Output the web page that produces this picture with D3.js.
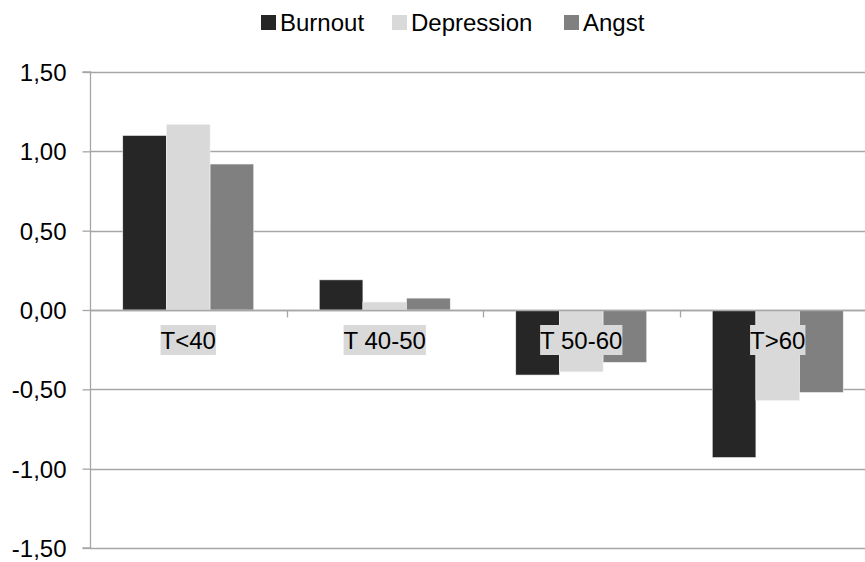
<!DOCTYPE html>
<html><head><meta charset="utf-8">
<script src="https://cdn.jsdelivr.net/npm/d3@7/dist/d3.min.js"></script>
<style>body{margin:0;background:#fff}svg{display:block}text{font-family:"Liberation Sans",Arial,sans-serif;fill:#000}</style>
</head><body>
<script>
const categories = ["T<40", "T 40-50", "T 50-60", "T>60"];
const seriesNames = ["Burnout", "Depression", "Angst"];
const burnout = [1.10, 0.19, -0.41, -0.93];
const depression = [1.17, 0.05, -0.39, -0.57];
const angst = [0.92, 0.075, -0.33, -0.52];
const yTicks = [1.5, 1.0, 0.5, 0.0, -0.5, -1.0, -1.5];
const colors = ["#262626", "#d9d9d9", "#808080"];

const W = 865, H = 562;
const FS = "24px";
const seriesValues = [burnout, depression, angst];
const svg = d3.select("body").append("svg").attr("width", W).attr("height", H);

const x0 = d3.scaleBand().domain(categories).range([90, 876]).paddingInner(0).paddingOuter(0);
const x1 = d3.scaleBand().domain(seriesNames).range([0, x0.bandwidth()]).paddingOuter(0.75).paddingInner(0);
const y = d3.scaleLinear().domain([-1.5, 1.5]).range([548, 72]);
const fmt = v => d3.format(".2f")(v).replace(".", ",").replace("−", "-");

// gridlines
svg.append("g").selectAll("line").data(yTicks).join("line")
  .attr("x1", 90).attr("x2", 876)
  .attr("y1", d => Math.round(y(d)) + 0.5).attr("y2", d => Math.round(y(d)) + 0.5)
  .attr("stroke", "#a6a6a6").attr("stroke-width", 1.3);

// y axis
const yAxis = d3.axisLeft(y).tickValues(yTicks).tickSize(8).tickPadding(16).tickFormat(fmt);
const gy = svg.append("g").attr("transform", "translate(90.5,0)").call(yAxis);
gy.select(".domain").attr("stroke", "#a6a6a6").attr("stroke-width", 1.3).attr("d", `M-8,${y(1.5)}H0V${y(-1.5)}H-8`);
gy.selectAll(".tick line").attr("stroke", "#a6a6a6").attr("stroke-width", 1.3);
gy.selectAll(".tick text").style("font-size", FS).attr("fill", "#000").attr("dy", "0.35em");

// bars
const groups = svg.append("g").selectAll("g").data(categories).join("g")
  .attr("transform", d => `translate(${x0(d)},0)`);
groups.selectAll("rect").data((c, i) => seriesNames.map((s, j) => ({s, v: seriesValues[j][i], j})))
  .join("rect")
  .attr("x", d => x1(d.s)).attr("width", x1.bandwidth())
  .attr("y", d => y(Math.max(0, d.v))).attr("height", d => Math.abs(y(d.v) - y(0)))
  .attr("fill", d => colors[d.j]).attr("stroke", "#f2f2f2").attr("stroke-width", 0.6);

// zero line + category ticks
const zy = Math.round(y(0)) + 0.5;
svg.append("line").attr("x1", 90).attr("x2", 876).attr("y1", zy).attr("y2", zy)
  .attr("stroke", "#a6a6a6").attr("stroke-width", 1.3);
svg.append("g").selectAll("line").data(categories.slice(1)).join("line")
  .attr("x1", d => Math.round(x0(d)) + 0.5).attr("x2", d => Math.round(x0(d)) + 0.5)
  .attr("y1", zy).attr("y2", zy + 7).attr("stroke", "#a6a6a6").attr("stroke-width", 1.3);

// category labels with background
const lab = svg.append("g").selectAll("g").data(categories).join("g");
lab.each(function(d) {
  const g = d3.select(this);
  const cx = x0(d) + x0.bandwidth() / 2;
  const t = g.append("text").attr("x", cx).attr("y", 349).attr("text-anchor", "middle")
    .style("font-size", FS).text(d);
  const b = t.node().getBBox();
  g.insert("rect", "text").attr("x", b.x).attr("y", 325).attr("width", b.width).attr("height", 30)
    .attr("fill", "#d9d9d9");
});

// legend
const legX = [261, 392, 564];
const leg = svg.append("g").selectAll("g").data(seriesNames).join("g")
  .attr("transform", (d, i) => `translate(${legX[i]},0)`);
leg.append("rect").attr("x", 0).attr("y", 15).attr("width", 15).attr("height", 15).attr("fill", (d, i) => colors[i]);
leg.append("text").attr("x", 19).attr("y", 31).style("font-size", FS).text(d => d);
</script>
</body></html>
